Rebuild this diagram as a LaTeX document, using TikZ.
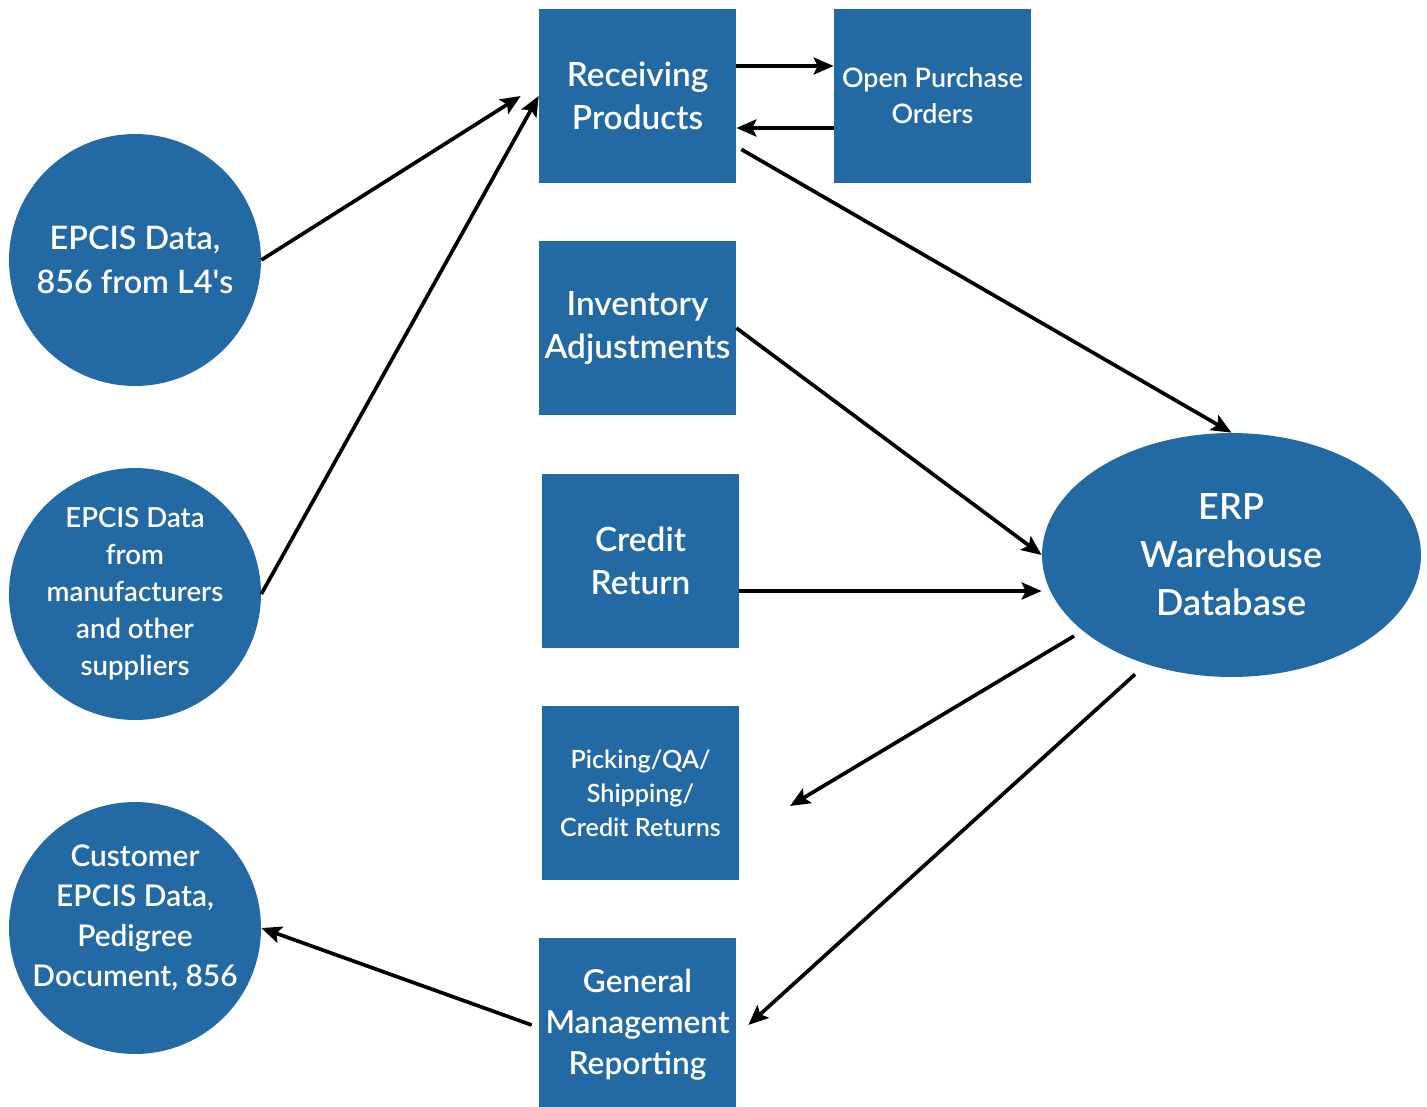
\documentclass[tikz,border=0pt]{standalone}
\usepackage{fontspec}
\setmainfont{Lato Semibold}
\usetikzlibrary{arrows.meta,shapes.geometric}
\definecolor{boxblue}{RGB}{35,105,164}
\begin{document}
\begin{tikzpicture}[x=0.02cm,y=-0.02cm,
		blockbox/.style={fill=boxblue,text=white,minimum width=3.94cm,minimum height=3.48cm,inner sep=0pt,align=center},
		datadisc/.style={circle,fill=boxblue,text=white,minimum size=5.04cm,inner sep=0pt,align=center},
		flow/.style={line width=2.1pt,-{Stealth[length=0.4cm,width=0.34cm,inset=0.08cm]}},
		bigtxt/.style={font=\fontsize{19}{24.5}\selectfont}]
				\useasboundingbox (0,0) rectangle (1427,1106);
				% process boxes
				\node[blockbox,bigtxt] (rec) at (637.5,96) {Receiving\\Products};
				\node[blockbox,font=\fontsize{15.3}{20.5}\selectfont] (opo) at (932.5,96) {Open Purchase\\Orders};
				\node[blockbox,bigtxt] (inv) at (637.5,328) {Inventory\\Adjustments};
				\node[blockbox,bigtxt] (cred) at (640.5,561) {Credit\\Return};
				\node[blockbox,font=\fontsize{14.3}{19.3}\selectfont] (pick) at (640.5,793) {Picking/QA/\\Shipping/\\Credit Returns};
				\node[blockbox,font=\fontsize{18}{23.3}\selectfont] (gmr) at (637.5,1025) {General\\Management\\Reporting};
				% data sources
				\node[datadisc,font=\fontsize{18.4}{25}\selectfont] (src) at (135,260) {EPCIS Data,\\856 from L4\textquotesingle s};
				\node[datadisc,font=\fontsize{15.7}{21}\selectfont] (mfg) at (135,594) {EPCIS Data\\from\\manufacturers\\and other\\suppliers};
				\node[datadisc] (cust) at (135,928) {};
				\node[font=\fontsize{17}{22.8}\selectfont,text=white,align=center] (custtxt) at (135,918) {Customer\\EPCIS Data,\\Pedigree\\Document, 856};
				\node[ellipse,fill=boxblue,text=white,minimum width=7.58cm,minimum height=4.88cm,inner sep=0pt,align=center,font=\fontsize{20.5}{27.3}\selectfont] (erp) at (1231.5,555) {ERP\\Warehouse\\Database};
				\coordinate (pickin) at (790,806);
				% connectors
				\draw[flow] (src.east) -- ([xshift=-0.36cm]rec.west);
				\draw[flow] (mfg.east) -- (rec.west);
				\draw[flow] ([yshift=0.6cm]rec.east) -- ([yshift=0.6cm]opo.west);
				\draw[flow] ([yshift=-0.64cm]opo.west) -- ([yshift=-0.64cm]rec.east);
				\draw[flow] ([shift={(0.1cm,0.68cm)}]rec.south east) -- (erp.north);
				\draw[flow] (inv.east) -- (erp.west);
				\draw[flow] ([yshift=-0.6cm]cred.east) -- ([yshift=-0.6cm]cred.east -| erp.west);
				\draw[flow,shorten <=0.2cm] (erp.207) -- (pickin);
				\draw[flow,shorten <=0.3cm] (erp.232) -- ([xshift=0.24cm]gmr.east);
				\draw[flow] ([xshift=-0.14cm]gmr.west) -- (cust.east);
		\end{tikzpicture}
\end{document}
